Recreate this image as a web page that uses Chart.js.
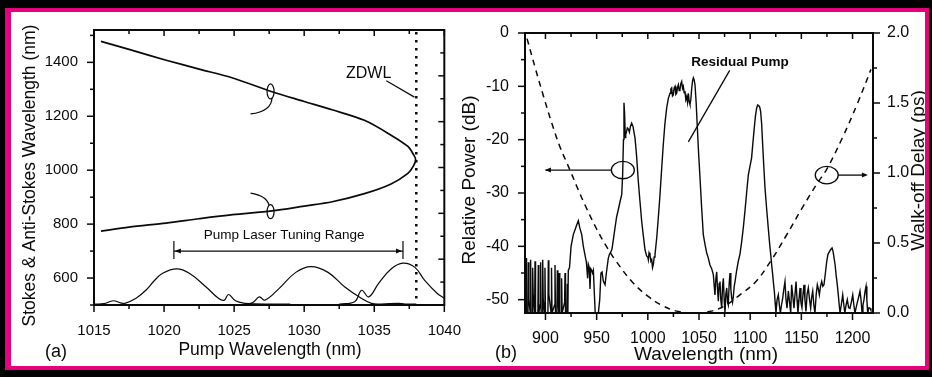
<!DOCTYPE html>
<html>
<head>
<meta charset="utf-8">
<script src="https://cdn.jsdelivr.net/npm/chart.js@4.4.1/dist/chart.umd.min.js"></script>
<style>
html, body { margin: 0; padding: 0; background: #000; }
#page { position: relative; width: 932px; height: 377px; overflow: hidden; background: #000; }
#white { position: absolute; left: 11px; top: 12px; width: 914px; height: 354px; background: #fff; }
canvas { position: absolute; }
#ca { left: 12px; top: 13px; }
#cb { left: 455px; top: 13px; }
.bd { position: absolute; background: #e6007e; z-index: 5; }
</style>
</head>
<body>
<div id="page">
  <div id="white"></div>
  <canvas id="ca" width="458" height="353"></canvas>
  <canvas id="cb" width="477" height="353"></canvas>
  <div class="bd" style="left:5px;top:8px;width:924px;height:4px"></div>
  <div class="bd" style="left:5px;top:8px;width:6px;height:362px"></div>
  <div class="bd" style="left:925px;top:8px;width:4px;height:362px"></div>
  <div class="bd" style="left:5px;top:366px;width:924px;height:4px"></div>
</div>
<script>
const FONT = "'Liberation Sans', Arial, sans-serif";
const INK = '#0a0a0a';

// ---- panel (a): Stokes / anti-Stokes vs pump wavelength
const pumpWl = [1015.5, 1017.5, 1020.15, 1022.5, 1024.9, 1027.7, 1030, 1032, 1034.3, 1036.2, 1037.4, 1037.8, 1037.95,
                1037.8, 1037.4, 1036.2, 1034.3, 1032, 1030, 1027.7, 1024.9, 1022.5, 1020.15, 1017.5, 1015.5];
const signalNm = [1478, 1448, 1408, 1375, 1342, 1291, 1255, 1224, 1185, 1130, 1088, 1058, 1040,
                  1016, 988, 949, 913, 883, 867, 849, 835, 820, 804, 789, 774];

// pump laser spectra drawn along the bottom
const gain1Wl = [1014.95, 1015.7, 1016.37, 1016.9, 1017.2, 1018.0, 1018.7, 1019.3, 1019.9, 1020.9, 1021.8, 1023.0, 1023.9, 1024.3, 1024.6, 1025.1, 1025.8, 1026.5, 1027.5, 1029];
const gain1Val = [503.6, 505, 515.7, 508, 506, 525, 554.6, 590, 617.7, 633.7, 617.7, 566.7, 524, 518, 539, 515.7, 506, 504, 503.6, 503.6];
const gain2Wl = [1025.8, 1026.3, 1026.8, 1027.2, 1028.2, 1029.4, 1030.5, 1031.7, 1032.9, 1034.1, 1034.8, 1035.5, 1036.7, 1037.2, 1038];
const gain2Val = [503.6, 508, 530, 518, 560.8, 621, 642, 621, 566.7, 524, 506, 503.6, 506, 503.6, 503.6];
const gain3Wl = [1032.5, 1033.6, 1034.1, 1034.6, 1035.3, 1036.2, 1037.05, 1037.9, 1038.6, 1039.5, 1040];
const gain3Val = [503.6, 512, 554.6, 530, 579, 633.7, 655.5, 639.5, 591, 542.6, 525];

const xTicksA = [1015, 1020, 1025, 1030, 1035, 1040];
const xMinorA = [1017.5, 1022.5, 1027.5, 1032.5, 1037.5];
const yTicksA = [600, 800, 1000, 1200, 1400];
const yMinorA = [500, 700, 900, 1100, 1300, 1500];
const zdwl = 1038;

// ---- panel (b): output spectrum and walk-off delay
const specWl = [880.3, 881.0, 881.5, 882.9, 883.3, 883.8, 885.1, 885.5, 886.0, 887.1, 887.5, 888.0, 889.4, 889.8, 890.3,
  892.6, 893.0, 893.5, 894.9, 895.3, 895.8, 896.9, 897.3, 897.8, 899.1, 899.5, 900.0, 902.4, 902.8, 903.3,
  905.5, 905.9, 906.4, 908.9, 909.3, 909.8, 911.2, 911.6, 912.1, 913.1, 913.5, 914.0, 915.4, 915.8, 916.3,
  918.7, 919.1, 919.6, 921.0, 921.4, 921.9,
  922.3, 923.5, 925, 927.2, 928.9, 930.5, 932.1, 933.5, 935.4, 937, 938.6, 940, 941.2, 941.9, 942.8, 943.5,
  944.2, 945.2, 946, 946.8, 947.8, 948.6, 950, 951.7, 953, 954.2, 955.3, 956.5, 958.2, 959.5, 961.4, 962.5, 964, 965, 967.9, 969.5,
  971.2, 973, 974.5, 975.4, 976.2, 976.7, 977.3, 978.0, 978.4, 979.2, 980, 981, 982, 983, 984.2, 985.5, 987.5, 989, 990.7, 992.3,
  994, 995.6, 997.2, 998.8, 1000, 1000.5, 1001.2, 1002.1, 1003, 1003.8, 1004.6, 1005.4, 1006.2, 1007, 1008.7, 1010.3, 1011.9, 1013.5, 1015.1, 1016.7,
  1018.4, 1020, 1021.7, 1022.5, 1023.3, 1024.1, 1024.9, 1025.7, 1026.6, 1027.4, 1028.2, 1029, 1029.8, 1030.6, 1031.4, 1032.2, 1033.1, 1033.9, 1034.7, 1035.5,
  1036.3, 1037.1, 1038.0, 1038.8, 1039.6, 1040.4, 1041.2, 1042, 1042.9, 1043.7, 1044.5, 1045.3, 1046.1, 1047.2, 1048.4, 1049.6, 1051, 1052.5, 1054.2, 1055.9,
  1057.5, 1059.1, 1060.7, 1062.4, 1064, 1065.6, 1066.5, 1067.3, 1068.1, 1068.9, 1069.7, 1070.5, 1071.3, 1072.2, 1073, 1073.8, 1074.6, 1075.4, 1076.2, 1077.1,
  1077.9, 1078.6, 1079.5, 1080.3, 1081.1, 1081.9, 1082.8, 1083.5, 1084.4, 1085.2, 1086.8, 1088.4, 1090, 1091.7, 1093.3, 1094.9, 1096.5, 1098.2, 1099.8, 1101.4,
  1102.7, 1104, 1105.2, 1106.3, 1107.3, 1108.3, 1109.3, 1110.2, 1111.2, 1112.2, 1113.3, 1114.5, 1116.1, 1117.7, 1119, 1120.1, 1121, 1122, 1122.8, 1123.6,
  1124.4, 1125.2, 1126.3, 1127.5, 1128.5, 1129.5, 1130.6, 1131.8, 1132.9, 1134, 1135, 1136, 1137.3, 1138.5, 1139.6, 1140.5, 1141.5, 1142.8, 1143.8, 1144.8,
  1145.8, 1146.7, 1147.7, 1148.7, 1149.6, 1150.6, 1151.6, 1152.6, 1153.5, 1154.5, 1155.6, 1156.8, 1158, 1159.1, 1160.1, 1161.1, 1162.2, 1163.3, 1164.5, 1165.6,
  1166.6, 1167.6, 1168.7, 1169.9, 1171, 1172.1, 1173.5, 1174.8, 1176, 1177.4, 1178.7, 1180, 1181, 1182, 1183, 1183.9, 1185, 1186.1, 1187, 1187.8,
  1189, 1190.4, 1191.5, 1192.5, 1193.7, 1194.9, 1196.2, 1197.5, 1198.8, 1200.2, 1201.3, 1202.4, 1203.5, 1204.7, 1206, 1207.3, 1208.3, 1209.3, 1210.2, 1211.2,
  1212.2, 1213.2, 1214, 1214.8, 1216, 1217.1, 1218];
const specDb = [-52.5, -42.2, -52.5, -52.5, -43, -50, -52.5, -42.5, -52.5, -52.5, -44, -49, -52.5, -42.8, -52.5,
  -52.5, -43.5, -52.5, -51, -43, -52.5, -52.5, -42.5, -50, -52.5, -44, -52.5, -52.5, -42.6, -49,
  -52.5, -44, -52.5, -51, -43.5, -52.5, -52.5, -44.5, -50, -52.5, -45, -52.5, -52.5, -46, -52.5,
  -50.5, -45, -52.5, -52.5, -47, -52.5,
  -44.5, -44, -40, -37.8, -36.9, -36, -35.2, -36.5, -37.8, -40, -41.6, -43, -46, -43.4, -44, -48,
  -44.2, -44.5, -45, -44.5, -49, -52.5, -52.5, -52.5, -50, -45, -44.8, -46.5, -47.2, -45, -42.2, -41.5, -41, -40.5, -36.6, -34.5,
  -33.1, -31.5, -30.3, -26.6, -20, -13.1, -15, -19.6, -19.1, -18.5, -17.8, -18, -18.6, -17.5, -16.9, -17.5, -19.7, -23, -27.8, -31.5,
  -35.3, -38, -40.6, -41.8, -42, -42.5, -41.2, -41.6, -42.8, -42.5, -44, -43.4, -42, -41.6, -38.4, -34.5, -30.3, -25.5, -20.9, -17,
  -14.1, -12.3, -11.3, -10.5, -10.3, -11.8, -11.6, -10.3, -10.0, -11.5, -11.3, -10.2, -9.7, -10.8, -10.6, -9.5, -9.1, -10.4, -10, -11.2,
  -10.9, -12.5, -11.9, -13, -11.3, -12.8, -13.4, -12.5, -10.3, -9, -8.4, -8.8, -9.7, -13, -17.8, -22.5, -27.2, -32.5, -37.8, -39.7,
  -41.2, -42.2, -43.5, -44.2, -45.3, -49.1, -46, -44.8, -48, -50.3, -47, -46.6, -50, -51.6, -47.5, -46, -50, -52.5, -49, -47.8,
  -50.5, -51, -47, -45, -48, -49.6, -50.5, -49.5, -47.5, -46.6, -44.5, -42.8, -41.5, -39.1, -36.5, -33.4, -30, -26.6, -25, -23.4,
  -20.5, -17.8, -15.5, -14.1, -13.5, -13.6, -13.9, -14.7, -17, -20.9, -25, -29.1, -33, -36.6, -39.5, -41.6, -43.5, -45.3, -47, -48.4,
  -50.5, -52.5, -50, -49.1, -51, -52.5, -51, -49.7, -48, -46.6, -50, -51.6, -48.4, -50.5, -52.5, -47.2, -49, -51.6, -49, -46.6,
  -50, -52.5, -50, -47.8, -50.5, -51.5, -49, -47.2, -50, -52.2, -49, -47.8, -50, -51.6, -49.5, -48.4, -51, -52.5, -49, -47.2,
  -48, -49.1, -47.5, -46.6, -47.5, -47.2, -45, -42.8, -41.5, -41, -40.6, -40.3, -41, -42.2, -43.5, -45.3, -47, -49.1, -51, -52.5,
  -51, -49.1, -51, -52.5, -51, -50, -51.5, -51.6, -50.5, -49.1, -51, -52.5, -51.5, -50.5, -49.5, -48.4, -50, -52.5, -51, -50,
  -48.5, -47.5, -50, -52.5, -51.5, -51.6, -52];

const delayWl = [882, 890, 898, 906, 914, 924, 932, 940, 950, 960, 970, 985, 1000, 1015, 1030, 1045, 1060, 1075, 1090, 1105, 1120, 1135, 1150, 1165, 1175, 1190, 1205, 1218];
const delayPs = [1.96, 1.75, 1.55, 1.36, 1.19, 1.02, 0.88, 0.75, 0.6, 0.47, 0.36, 0.22, 0.12, 0.05, 0.01, 0.0, 0.01, 0.05, 0.13, 0.22, 0.37, 0.55, 0.74, 0.92, 1.03, 1.25, 1.5, 1.74];

const xTicksB = [900, 950, 1000, 1050, 1100, 1150, 1200];
const xMinorB = [925, 975, 1025, 1075, 1125, 1175];
const yTicksB = [0, -10, -20, -30, -40, -50];
const yMinorB = [-5, -15, -25, -35, -45];
const y1TicksB = [0, 0.5, 1, 1.5, 2];
const y1MinorB = [0.25, 0.75, 1.25, 1.75];

function pts(xs, ys) { return xs.map((x, i) => ({ x: x, y: ys[i] })); }

function line(xs, ys, width, tension, extra) {
  return Object.assign({
    data: pts(xs, ys), showLine: true, pointRadius: 0, borderColor: INK,
    borderWidth: width, tension: tension, fill: false
  }, extra || {});
}

function tickFont(size) { return { family: FONT, size: size }; }

function ticksAlong(ctx, scale, values, fixed, dir, len, horizontal) {
  values.forEach(v => {
    const p = scale.getPixelForValue(v);
    ctx.beginPath();
    if (horizontal) { ctx.moveTo(p, fixed); ctx.lineTo(p, fixed + dir * len); }
    else { ctx.moveTo(fixed, p); ctx.lineTo(fixed + dir * len, p); }
    ctx.stroke();
  });
}

function label(ctx, str, x, y, size, rot, bold) {
  ctx.save();
  ctx.translate(x, y);
  if (rot) ctx.rotate(rot);
  ctx.font = (bold ? 'bold ' : '') + size + 'px ' + FONT;
  ctx.fillStyle = INK;
  ctx.textAlign = 'center';
  ctx.textBaseline = 'middle';
  ctx.fillText(str, 0, 0);
  ctx.restore();
}

function oval(ctx, x, y, rx, ry) {
  ctx.beginPath();
  ctx.ellipse(x, y, rx, ry, 0, 0, Math.PI * 2);
  ctx.stroke();
}

function arrowHead(ctx, x, y, dx, dy) {
  ctx.beginPath();
  ctx.moveTo(x, y);
  ctx.lineTo(x - dx * 6 - dy * 2.5, y - dy * 6 + dx * 2.5);
  ctx.lineTo(x - dx * 6 + dy * 2.5, y - dy * 6 - dx * 2.5);
  ctx.closePath();
  ctx.fill();
}

const panelA = {
  id: 'panelA',
  afterDraw(chart) {
    const ctx = chart.ctx, a = chart.chartArea;
    const sx = chart.scales.x, sy = chart.scales.y, sr = chart.scales.y1;
    ctx.save();
    ctx.strokeStyle = INK; ctx.fillStyle = INK;
    ctx.lineWidth = 2;
    ctx.strokeRect(a.left, a.top, a.right - a.left, a.bottom - a.top);
    ctx.lineWidth = 1.5;
    ticksAlong(ctx, sx, xTicksA, a.bottom, 1, 7, true);
    ticksAlong(ctx, sx, xMinorA, a.bottom, 1, 4, true);
    ticksAlong(ctx, sx, xTicksA, a.top, 1, 6, true);
    ticksAlong(ctx, sx, xMinorA, a.top, 1, 4, true);
    ticksAlong(ctx, sy, yTicksA, a.left, -1, 7, false);
    ticksAlong(ctx, sy, yMinorA, a.left, -1, 4, false);
    ticksAlong(ctx, sr, [0, 2, 4, 6, 8, 10, 12], a.right, -1, 6, false);
    ticksAlong(ctx, sr, [1, 3, 5, 7, 9, 11], a.right, -1, 4, false);

    // zero-dispersion wavelength, dotted
    const zx = sx.getPixelForValue(zdwl);
    ctx.save();
    ctx.lineWidth = 2.5; ctx.setLineDash([2.5, 5.5]);
    ctx.beginPath(); ctx.moveTo(zx, a.top + 2); ctx.lineTo(zx, a.bottom); ctx.stroke();
    ctx.restore();

    ctx.lineWidth = 1.2;
    label(ctx, 'ZDWL', sx.getPixelForValue(1034.6), sy.getPixelForValue(1360), 16);
    ctx.beginPath();
    ctx.moveTo(sx.getPixelForValue(1035.86), sy.getPixelForValue(1332));
    ctx.lineTo(sx.getPixelForValue(1037.87), sy.getPixelForValue(1271));
    ctx.stroke();

    // curve markers
    const o1x = sx.getPixelForValue(1027.6), o1y = sy.getPixelForValue(1292);
    oval(ctx, o1x, o1y, 3.5, 7.5);
    ctx.beginPath();
    ctx.moveTo(o1x + 1.5, o1y + 6);
    ctx.quadraticCurveTo(o1x + 1, o1y + 20, o1x - 20, o1y + 22.5);
    ctx.stroke();
    const o2x = sx.getPixelForValue(1027.6), o2y = sy.getPixelForValue(846);
    oval(ctx, o2x, o2y, 3.5, 7);
    ctx.beginPath();
    ctx.moveTo(o2x - 1.5, o2y - 6.5);
    ctx.quadraticCurveTo(o2x - 4, o2y - 16, o2x - 20, o2y - 18.5);
    ctx.stroke();

    // tuning range
    const r1 = sx.getPixelForValue(1020.7), r2 = sx.getPixelForValue(1037.05);
    const ry = sy.getPixelForValue(700);
    ctx.beginPath();
    ctx.moveTo(r1, ry); ctx.lineTo(r2, ry);
    ctx.moveTo(r1, sy.getPixelForValue(737)); ctx.lineTo(r1, sy.getPixelForValue(671));
    ctx.moveTo(r2, sy.getPixelForValue(737)); ctx.lineTo(r2, sy.getPixelForValue(671));
    ctx.stroke();
    arrowHead(ctx, r1 + 1, ry, -1, 0);
    arrowHead(ctx, r2 - 1, ry, 1, 0);
    label(ctx, 'Pump Laser Tuning Range', sx.getPixelForValue(1028.57), sy.getPixelForValue(759), 13.5);

    // axis titles
    label(ctx, 'Stokes & Anti-Stokes Wavelength (nm)', 18, 162.5, 17.5, -Math.PI / 2);
    label(ctx, 'Pump Wavelength (nm)', 258, 337, 17.5);
    label(ctx, '(a)', 44, 339, 18);
    ctx.restore();
  }
};

const panelB = {
  id: 'panelB',
  afterDraw(chart) {
    const ctx = chart.ctx, a = chart.chartArea;
    const sx = chart.scales.x, sy = chart.scales.y, sr = chart.scales.y1;
    ctx.save();
    ctx.strokeStyle = INK; ctx.fillStyle = INK;
    ctx.lineWidth = 2;
    ctx.strokeRect(a.left, a.top, a.right - a.left, a.bottom - a.top);
    ctx.lineWidth = 1.5;
    ticksAlong(ctx, sx, xTicksB, a.bottom, 1, 7, true);
    ticksAlong(ctx, sx, xMinorB, a.bottom, 1, 4, true);
    ticksAlong(ctx, sx, xTicksB, a.top, 1, 6, true);
    ticksAlong(ctx, sx, xMinorB, a.top, 1, 4, true);
    ticksAlong(ctx, sy, yTicksB, a.left, -1, 7, false);
    ticksAlong(ctx, sy, yMinorB, a.left, -1, 4, false);
    ticksAlong(ctx, sr, y1TicksB, a.right, 1, 7, false);
    ticksAlong(ctx, sr, y1MinorB, a.right, 1, 4, false);

    ctx.lineWidth = 1.3;
    label(ctx, 'Residual Pump', sx.getPixelForValue(1090), sy.getPixelForValue(-5.4), 13.5, 0, true);
    ctx.beginPath();
    ctx.moveTo(sx.getPixelForValue(1080), sy.getPixelForValue(-7));
    ctx.lineTo(sx.getPixelForValue(1039.6), sy.getPixelForValue(-20.4));
    ctx.stroke();

    const lx = sx.getPixelForValue(975.6), ly = sy.getPixelForValue(-25.7);
    oval(ctx, lx, ly, 11.5, 8.7);
    ctx.beginPath(); ctx.moveTo(lx - 11.5, ly); ctx.lineTo(sx.getPixelForValue(900), ly); ctx.stroke();
    arrowHead(ctx, sx.getPixelForValue(899.5), ly, -1, 0);

    const rx = sx.getPixelForValue(1174.8), ryy = sr.getPixelForValue(0.985);
    oval(ctx, rx, ryy, 11.5, 8.7);
    ctx.beginPath(); ctx.moveTo(rx + 11.5, ryy); ctx.lineTo(sx.getPixelForValue(1213), ryy); ctx.stroke();
    arrowHead(ctx, sx.getPixelForValue(1215), ryy, 1, 0);

    label(ctx, 'Relative Power (dB)', 15, 167, 19, -Math.PI / 2);
    label(ctx, 'Walk-off Delay (ps)', 464, 157.5, 19, -Math.PI / 2);
    label(ctx, 'Wavelength (nm)', 251, 342, 19);
    label(ctx, '(b)', 51, 340, 18);
    ctx.restore();
  }
};

function baseOptions() {
  return {
    responsive: false, animation: false, events: [],
    plugins: { legend: { display: false }, tooltip: { enabled: false } }
  };
}

new Chart(document.getElementById('ca'), {
  type: 'scatter',
  data: {
    datasets: [
      line(pumpWl, signalNm, 1.7, 0.3),
      line(gain1Wl, gain1Val, 1.2, 0.4),
      line(gain2Wl, gain2Val, 1.2, 0.4),
      line(gain3Wl, gain3Val, 1.2, 0.4)
    ]
  },
  options: Object.assign(baseOptions(), {
    layout: { padding: { left: 0, top: 12, right: 23, bottom: 0 } },
    scales: {
      x: {
        type: 'linear', min: 1015, max: 1040,
        grid: { display: false }, border: { display: false },
        afterBuildTicks: s => { s.ticks = xTicksA.map(v => ({ value: v })); },
        afterFit: s => { s.height = 61; },
        ticks: { padding: 9, color: INK, font: tickFont(15), maxRotation: 0, autoSkip: false, callback: v => String(v) }
      },
      y: {
        type: 'linear', min: 500, max: 1520,
        grid: { display: false }, border: { display: false },
        afterBuildTicks: s => { s.ticks = yTicksA.map(v => ({ value: v })); },
        afterFit: s => { s.width = 82; },
        ticks: { padding: 8, color: INK, font: tickFont(15), callback: v => String(v) }
      },
      y1: { type: 'linear', display: false, position: 'right', min: 0, max: 12 }
    }
  }),
  plugins: [panelA]
});

new Chart(document.getElementById('cb'), {
  type: 'scatter',
  data: {
    datasets: [
      line(specWl, specDb, 1.4, 0),
      line(delayWl, delayPs, 1.5, 0.4, { yAxisID: 'y1', borderDash: [6, 5] })
    ]
  },
  options: Object.assign(baseOptions(), {
    layout: { padding: { left: 0, top: 20, right: 0, bottom: 0 } },
    scales: {
      x: {
        type: 'linear', min: 880, max: 1220,
        grid: { display: false }, border: { display: false },
        afterBuildTicks: s => { s.ticks = xTicksB.map(v => ({ value: v })); },
        afterFit: s => { s.height = 53; },
        ticks: { padding: 8, color: INK, font: tickFont(16), maxRotation: 0, autoSkip: false, callback: v => String(v) }
      },
      y: {
        type: 'linear', min: -52.5, max: 0,
        grid: { display: false }, border: { display: false },
        afterBuildTicks: s => { s.ticks = yTicksB.map(v => ({ value: v })); },
        afterFit: s => { s.width = 70; },
        ticks: { padding: 8, color: INK, font: tickFont(16), callback: v => String(v) }
      },
      y1: {
        type: 'linear', position: 'right', min: 0, max: 2,
        grid: { display: false }, border: { display: false },
        afterBuildTicks: s => { s.ticks = y1TicksB.map(v => ({ value: v })); },
        afterFit: s => { s.width = 59; },
        ticks: { padding: 6, color: INK, font: tickFont(16), callback: v => v.toFixed(1) }
      }
    }
  }),
  plugins: [panelB]
});
</script>
</body>
</html>
